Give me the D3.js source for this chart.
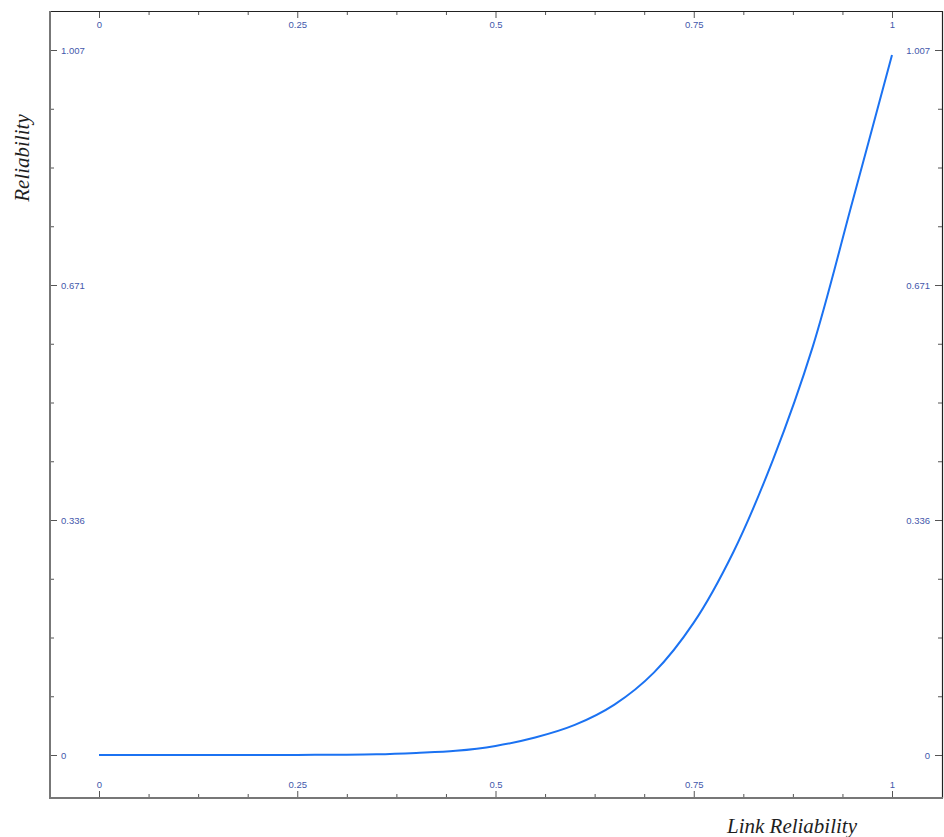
<!DOCTYPE html>
<html>
<head>
<meta charset="utf-8">
<script src="https://cdn.jsdelivr.net/npm/d3@7/dist/d3.min.js"></script>
<style>
  html, body { margin: 0; padding: 0; background: #fff; }
  svg { display: block; }
  .tick text { font-family: "Liberation Sans", Arial, sans-serif; font-size: 9.5px; fill: #4358ab; }
  .tick line { stroke: #555; }
  .domain { display: none; }
  .title { font-family: "Liberation Serif", "Times New Roman", serif; font-style: italic; font-size: 21px; fill: #1e1e1e; }
</style>
</head>
<body>
<svg id="chart" width="944" height="837"></svg>
<script>
// link reliability -> network reliability
const linkRel = [0, 0.05, 0.1, 0.15, 0.2, 0.25, 0.3, 0.35, 0.4, 0.45, 0.5, 0.55, 0.6, 0.65, 0.7, 0.75, 0.8, 0.85, 0.9, 0.95, 1];
const netRel = [0, 0, 0, 0, 0, 0.0001, 0.0004, 0.001, 0.003, 0.006, 0.013, 0.025, 0.043, 0.072, 0.118, 0.189, 0.29, 0.422, 0.583, 0.79, 1];
const xTicks = [0, 0.25, 0.5, 0.75, 1];
const yMax = 1.007;
const yTicks = [0, yMax / 3, (2 * yMax) / 3, yMax];

const svg = d3.select("#chart");
const frame = { left: 50, top: 11, right: 942, bottom: 798 };

const x = d3.scaleLinear().domain([0, 1]).range([99, 892]);
const y = d3.scaleLinear().domain([0, yMax]).range([755, 50]);

const fmtY = (d) => d3.format(".3~f")(d);
const fmtX = (d) => String(d);
const xMinor = d3.range(0, 1.0001, 0.0625).filter((v) => !xTicks.some((t) => Math.abs(t - v) < 1e-6));
const yMinor = d3.range(0, 12).map((i) => (i * yMax) / 12).filter((_, i) => i % 4 !== 0);

// ---- minor ticks ----
svg.append("g").attr("transform", `translate(0,${frame.top})`)
  .call(d3.axisBottom(x).tickValues(xMinor).tickSize(4).tickFormat(""));
svg.append("g").attr("transform", `translate(0,${frame.bottom})`)
  .call(d3.axisTop(x).tickValues(xMinor).tickSize(4).tickFormat(""));
svg.append("g").attr("transform", `translate(${frame.left},0)`)
  .call(d3.axisRight(y).tickValues(yMinor).tickSize(4).tickFormat(""));
svg.append("g").attr("transform", `translate(${frame.right},0)`)
  .call(d3.axisLeft(y).tickValues(yMinor).tickSize(4).tickFormat(""));

// ---- major ticks + labels ----
svg.append("g").attr("transform", `translate(0,${frame.top})`)
  .call(d3.axisBottom(x).tickValues(xTicks).tickSize(7).tickPadding(3).tickFormat(fmtX));
svg.append("g").attr("transform", `translate(0,${frame.bottom})`)
  .call(d3.axisTop(x).tickValues(xTicks).tickSize(7).tickPadding(3).tickFormat(fmtX));
svg.append("g").attr("transform", `translate(${frame.left},0)`)
  .call(d3.axisRight(y).tickValues(yTicks).tickSize(7).tickPadding(4).tickFormat(fmtY));
svg.append("g").attr("transform", `translate(${frame.right},0)`)
  .call(d3.axisLeft(y).tickValues(yTicks).tickSize(7).tickPadding(5).tickFormat(fmtY));

// ---- frame ----
svg.append("line").attr("x1", frame.left).attr("x2", frame.right).attr("y1", frame.top + 0.5).attr("y2", frame.top + 0.5)
  .attr("stroke", "#222").attr("stroke-width", 1.2);
svg.append("line").attr("x1", frame.right + 0.5).attr("x2", frame.right + 0.5).attr("y1", frame.top).attr("y2", frame.bottom)
  .attr("stroke", "#222").attr("stroke-width", 1.2);
svg.append("line").attr("x1", frame.left).attr("x2", frame.left).attr("y1", frame.top).attr("y2", frame.bottom + 1)
  .attr("stroke", "#777").attr("stroke-width", 2);
svg.append("line").attr("x1", frame.left).attr("x2", frame.right + 1).attr("y1", frame.bottom).attr("y2", frame.bottom)
  .attr("stroke", "#777").attr("stroke-width", 2);

// ---- curve ----
const pts = linkRel.map((v, i) => [v, netRel[i]]);
svg.append("path")
  .datum(pts)
  .attr("fill", "none")
  .attr("stroke", "#1b72f2")
  .attr("stroke-width", 2)
  .attr("d", d3.line().x((d) => x(d[0])).y((d) => y(d[1])).curve(d3.curveCatmullRom.alpha(0.5)));

// ---- titles ----
svg.append("text").attr("class", "title")
  .attr("transform", "translate(29,158) rotate(-90)")
  .attr("text-anchor", "middle")
  .text("Reliability");
svg.append("text").attr("class", "title")
  .attr("x", 792).attr("y", 833)
  .attr("text-anchor", "middle")
  .text("Link Reliability");
</script>
</body>
</html>
